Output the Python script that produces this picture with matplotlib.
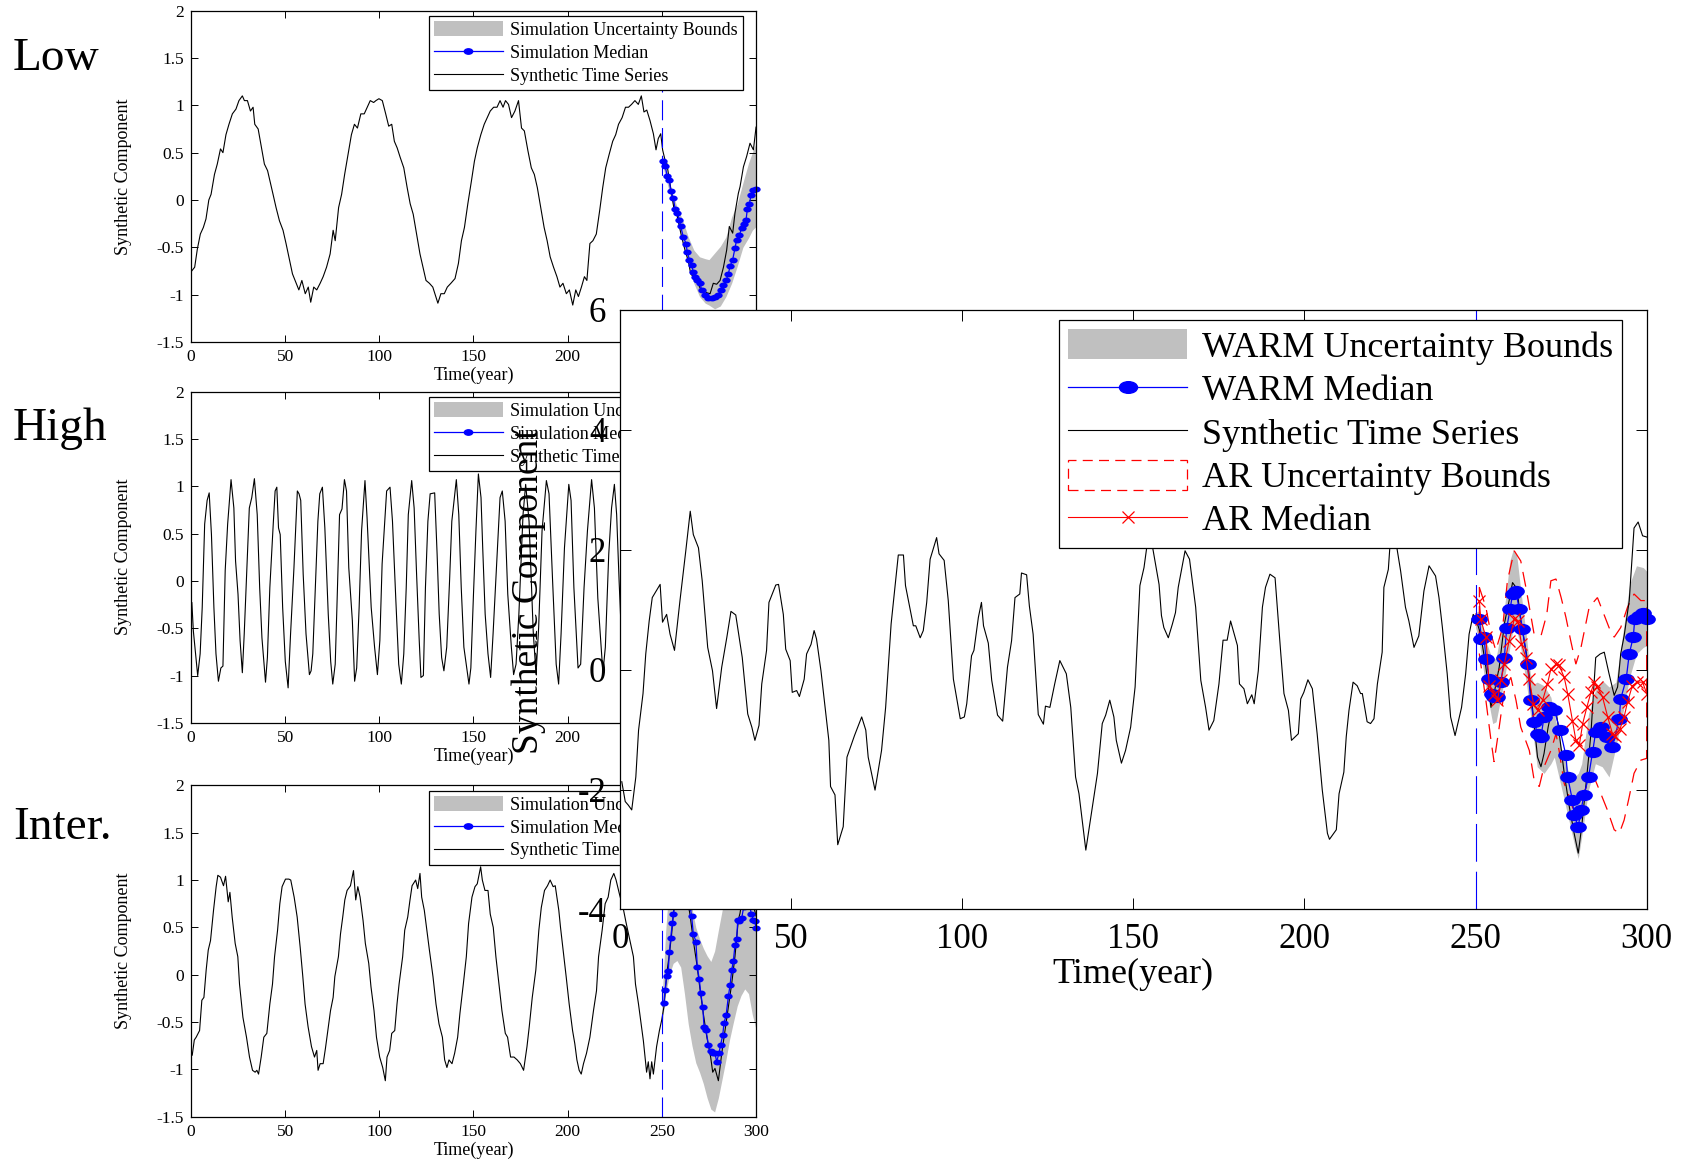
import numpy as np
import matplotlib.pyplot as plt
from matplotlib.path import Path
from matplotlib.transforms import Affine2D
from matplotlib.patches import Patch, Polygon
from matplotlib.lines import Line2D

plt.rcParams['font.family'] = ['Liberation Serif', 'DejaVu Serif']
plt.rcParams['axes.unicode_minus'] = False

# ---- values: (year, value) ----
low_series = [(0, -0.76), (2, -0.71), (3.4, -0.52), (5, -0.36), (6.6, -0.29), (8, -0.2), (9.5, 0.0), (10.7, 0.06),
              (12.5, 0.27), (14, 0.38), (15.7, 0.54), (17, 0.5), (18.6, 0.69), (20.2, 0.8), (22, 0.91), (23.9, 0.96),
              (25.5, 1.05), (27.3, 1.1), (28.4, 1.05), (30, 1.05), (31.6, 0.94), (33, 0.98), (33.9, 0.8), (35.7, 0.75),
              (37.5, 0.55), (39, 0.38), (40.7, 0.31), (42, 0.2), (43.6, 0.06), (45.2, -0.08), (47, -0.22), (48.9, -0.32),
              (50.5, -0.46), (52, -0.6), (53.9, -0.78), (55.7, -0.87), (57.3, -0.95), (58.9, -0.85), (60.7, -0.99),
              (62.3, -0.92), (63.6, -1.08), (65.2, -0.92), (66.8, -0.95), (68.6, -0.88), (70.2, -0.81), (72, -0.71),
              (73.9, -0.57), (75.5, -0.32), (76.6, -0.43), (78.4, -0.08), (80, 0.06), (81.6, 0.27), (83.4, 0.48),
              (85.2, 0.69), (86.8, 0.8), (88.4, 0.76), (90.2, 0.91), (92, 0.91), (93.6, 0.98), (95.2, 1.05), (97, 1.03),
              (98.2, 1.05), (99.8, 1.07), (101.6, 1.05), (103.4, 0.91), (105, 0.78), (106.6, 0.8), (108, 0.62),
              (109.5, 0.55), (111.1, 0.45), (113, 0.34), (114.8, 0.13), (116.4, -0.04), (118, -0.15), (119.8, -0.36),
              (121.6, -0.57), (123.2, -0.71), (124.8, -0.85), (126.6, -0.88), (128.4, -0.92), (130, -1.02),
              (131.1, -1.09), (132.7, -0.99), (134.5, -0.99), (136.1, -0.92), (138, -0.88), (140.2, -0.83), (142, -0.67),
              (143.6, -0.43), (145.2, -0.29), (147, -0.04), (148.9, 0.2), (150.5, 0.41), (152, 0.55), (153.9, 0.69),
              (155.7, 0.8), (157.3, 0.87), (158.9, 0.94), (160.7, 0.98), (162.5, 0.98), (164.1, 1.05), (165.7, 0.98),
              (167, 1.05), (168.6, 1.01), (170.2, 0.87), (172, 0.94), (173.9, 1.05), (175.5, 0.76), (177, 0.73),
              (178.9, 0.52), (180.7, 0.34), (182.3, 0.27), (183.9, 0.13), (185.7, -0.08), (187.5, -0.29), (189.1, -0.43),
              (190.7, -0.6), (192.5, -0.71), (194.3, -0.81), (195.9, -0.92), (197.5, -0.88), (199.3, -0.99),
              (200.9, -0.95), (202.7, -1.11), (204.3, -0.95), (205.7, -1.02), (207.3, -0.92), (208.9, -0.81),
              (210.2, -0.85), (211.8, -0.46), (213.4, -0.43), (215.2, -0.36), (217, -0.11), (218.6, 0.13), (220.2, 0.34),
              (222, 0.48), (223.9, 0.62), (225.5, 0.69), (227, 0.8), (228.9, 0.87), (230.7, 0.98), (232.3, 0.98),
              (233.9, 1.01), (235.7, 1.05), (237.5, 1.01), (239.1, 1.1), (240.5, 0.93), (242, 0.95), (243.7, 0.84),
              (245.5, 0.7), (246.9, 0.53), (248.1, 0.65), (249.4, 0.7), (250.4, 0.53), (251.7, 0.42), (252.6, 0.39),
              (254, 0.21), (255.2, 0.07), (256.4, -0.09), (257.9, -0.14), (259.3, -0.28), (260.5, -0.39), (262.3, -0.53),
              (264.1, -0.65), (265.3, -0.78), (266.7, -0.81), (268.5, -0.85), (270.3, -0.93), (272, -0.95),
              (273.8, -0.98), (275.6, -0.99), (277.3, -0.88), (279.1, -0.89), (280.9, -0.85), (282.7, -0.71),
              (284.4, -0.53), (285.8, -0.28), (287.6, -0.35), (288.8, -0.14), (290.6, 0.07), (291.5, 0.14),
              (293.3, 0.35), (295, 0.46), (296.8, 0.6), (298.6, 0.53), (300, 0.77)]
# (year, lower, upper)
low_band = [(250, 0.40, 0.48), (252, 0.24, 0.35), (255, 0.0, 0.11), (258, -0.21, -0.07), (261, -0.42, -0.21),
            (264, -0.67, -0.39), (267, -0.88, -0.53), (270, -1.02, -0.60), (273, -1.09, -0.62), (275, -1.11, -0.63),
            (278, -1.15, -0.56), (281, -1.12, -0.49), (284, -1.02, -0.39), (287, -0.88, -0.18), (290, -0.70, -0.04),
            (293, -0.50, 0.18), (296, -0.40, 0.39), (298, -0.32, 0.50), (300, -0.28, 0.60)]
low_median = [(250.8, 0.41), (251.7, 0.36), (252.9, 0.25), (254, 0.21), (254.7, 0.09), (256.1, 0.02), (257, -0.09),
              (258.2, -0.14), (259.3, -0.21), (260, -0.28), (261.4, -0.39), (262.8, -0.46), (263.5, -0.55),
              (264.6, -0.63), (265.8, -0.69), (266.7, -0.76), (267.6, -0.81), (268.8, -0.85), (270.3, -0.88),
              (271.1, -0.95), (272.9, -1.0), (274.7, -1.04), (276.4, -1.04), (278.2, -1.02), (280, -1.0),
              (281.2, -0.95), (282.6, -0.9), (284.1, -0.85), (285.3, -0.78), (286.2, -0.7), (287.6, -0.63),
              (288.8, -0.51), (289.7, -0.42), (291.1, -0.37), (292.4, -0.3), (293.6, -0.25), (294.7, -0.21),
              (295.4, -0.09), (296.5, -0.04), (297.3, 0.05), (298.6, 0.11), (299.8, 0.12)]

high_series = [(0.5, -0.23), (1.3, -0.53), (3.6, -1.0), (4.9, -0.77), (6, -0.28), (7.3, 0.6), (8.6, 0.85), (9.7, 0.93),
               (10.9, 0.49), (12.2, -0.28), (13.3, -0.77), (14.6, -1.06), (15.9, -0.92), (17, -0.9), (18.2, 0.11),
               (19.5, 0.6), (21.3, 1.07), (22.8, 0.77), (23.7, 0.21), (25, -0.14), (26.1, -0.63), (27.3, -0.97),
               (28.3, -0.56), (29.7, 0.14), (31, 0.77), (32.3, 0.88), (33.7, 1.08), (35.2, 0.7), (36.5, -0.07),
               (37.7, -0.6), (39.6, -1.07), (40.6, -0.81), (41.9, -0.07), (43.7, 0.6), (44.7, 0.95), (45.6, 0.99),
               (46.5, 0.56), (47.4, 0.49), (48.7, -0.28), (50.1, -0.85), (51.6, -1.13), (52.9, -0.56), (54.7, 0.14),
               (56.5, 0.95), (57.4, 0.92), (58.3, 0.85), (59.6, 0.07), (61.1, -0.56), (62.9, -0.99), (63.8, -0.95),
               (64.7, -0.77), (66.2, 0.0), (67.4, 0.63), (68.4, 0.92), (69.8, 0.99), (71.1, 0.56), (72.9, -0.35),
               (74.2, -0.85), (75.3, -1.09), (76.6, -0.88), (77.5, -0.28), (78.9, 0.7), (80.2, 0.76), (81.5, 1.07),
               (82.6, 0.95), (83.8, 0.14), (85.7, -0.42), (86.9, -1.06), (88, -0.92), (89.3, -0.28), (90.6, 0.53),
               (92.4, 1.06), (93.5, 0.67), (95.7, -0.28), (97.5, -0.7), (99, -0.99), (100.3, -0.63), (101.5, 0.18),
               (103.9, 0.95), (105.7, 0.99), (107, 0.63), (108.8, -0.21), (110.3, -0.88), (111.7, -1.09), (113, -0.77),
               (114.3, -0.07), (115.4, 0.7), (117.2, 1.06), (118.5, 0.77), (119.8, 0.07), (121.2, -0.63),
               (122.1, -1.02), (123.4, -1.0), (124.5, -0.07), (125.8, 0.63), (127, 0.92), (129.4, 0.93), (130.7, 0.28),
               (131.8, -0.35), (133.1, -0.81), (134.3, -0.95), (135.8, -0.7), (137.3, 0.0), (138.5, 0.63),
               (140.9, 1.07), (142.2, 0.7), (143.5, -0.07), (144.9, -0.7), (147.6, -1.09), (148.6, -0.92), (150, -0.14),
               (151.3, 0.53), (152.6, 1.13), (154, 0.88), (154.9, 0.35), (156.2, -0.35), (157.7, -0.77),
               (159.1, -1.02), (160.4, -0.56), (162.2, 0.14), (164.1, 0.88), (165.3, 0.95), (166.8, 0.63),
               (168.2, -0.14), (170.1, -0.7), (171.3, -0.99), (172.6, -0.88), (174.1, -0.35), (176.3, 0.7),
               (177.7, 1.02), (179.5, 0.63), (181.7, -0.53), (183.2, -0.99), (184.6, -0.49), (186.4, 0.53),
               (188.7, 1.06), (190.1, 0.92), (192, 0.0), (193.9, -0.88), (195.2, -1.09), (196.5, -0.56), (198.3, 0.35),
               (200.6, 1.02), (201.8, 0.85), (203.3, -0.07), (205.5, -0.92), (206.9, -0.88), (208.7, -0.07),
               (210.5, 0.53), (212.7, 1.07), (214.2, 0.77), (216, -0.18), (218.7, -0.97), (220, -0.7), (221.8, 0.28),
               (223.3, 0.77), (224.8, 1.02), (226, 0.7), (227.3, 0.0), (228.8, -0.7), (230, -1.0)]

inter_series = [(0.7, -0.85), (1.8, -0.69), (2.8, -0.66), (4.6, -0.59), (5.8, -0.27), (6.9, -0.24), (8.1, 0.05),
                (9.2, 0.26), (10.4, 0.36), (12, 0.68), (13.4, 0.93), (14.3, 1.05), (15.7, 1.03), (17.3, 0.94),
                (18.4, 1.04), (19.8, 0.77), (20.7, 0.87), (21.9, 0.61), (23.5, 0.33), (24.9, 0.19), (25.8, -0.1),
                (27.6, -0.45), (29.5, -0.66), (31.1, -0.87), (32.7, -1.01), (34.1, -1.03), (35, -1.01), (35.9, -1.05),
                (37.3, -0.87), (38.7, -0.66), (40.3, -0.62), (41.9, -0.31), (43.3, -0.1), (44.4, 0.19), (46, 0.47),
                (47.2, 0.75), (48.4, 0.93), (50.2, 1.01), (52, 1.01), (53, 1.0), (54.8, 0.82), (56.4, 0.61),
                (58, 0.29), (59.4, -0.02), (60.6, -0.31), (62.2, -0.55), (64, -0.76), (65.6, -0.87), (66.8, -0.8),
                (67.5, -1.01), (68.6, -0.94), (70.2, -0.94), (71.4, -0.78), (72.5, -0.62), (74.1, -0.38),
                (75.5, -0.24), (76.4, -0.02), (78.3, 0.19), (79.4, 0.43), (80.6, 0.61), (81.7, 0.79), (82.9, 0.89),
                (84.7, 0.94), (86.3, 1.1), (87.5, 0.79), (88.6, 0.93), (89.8, 0.82), (91.4, 0.57), (92.6, 0.33),
                (94.4, 0.12), (95.6, -0.13), (97.2, -0.38), (98.5, -0.66), (100.2, -0.87), (101.8, -0.98),
                (103.2, -1.12), (104.1, -0.87), (105.5, -0.8), (106.6, -0.62), (108.2, -0.59), (109.4, -0.31),
                (110.5, -0.1), (112.4, 0.19), (113.5, 0.47), (115.1, 0.61), (116.3, 0.79), (117.4, 0.94), (119.3, 1.0),
                (120.4, 0.91), (121.6, 1.07), (122.5, 0.82), (123.9, 0.68), (125.5, 0.43), (126.6, 0.26),
                (128.5, -0.02), (130.1, -0.31), (131.7, -0.52), (133.5, -0.66), (134.7, -0.9), (135.9, -0.98),
                (137, -0.9), (138.6, -0.94), (140, -0.83), (141.6, -0.66), (142.8, -0.41), (144.6, -0.1),
                (146.2, 0.19), (147.4, 0.54), (149.2, 0.82), (150.8, 0.93), (152, 0.96), (153.8, 1.14), (154.7, 1.0),
                (156.1, 0.89), (157.7, 0.89), (158.9, 0.64), (160.5, 0.5), (161.9, 0.19), (163.5, -0.1),
                (165.1, -0.38), (166.9, -0.62), (168.1, -0.66), (169.7, -0.87), (171.5, -0.87), (173.2, -0.9),
                (174.9, -0.94), (176.6, -1.01), (178.4, -0.76), (179.6, -0.55), (181.2, -0.24), (183.1, 0.05),
                (184.7, 0.47), (186, 0.71), (187.7, 0.89), (189.3, 0.94), (190.7, 1.0), (192.3, 0.93), (193.4, 0.94),
                (195.3, 0.68), (196.2, 0.5), (197.6, 0.26), (199.2, -0.02), (200.8, -0.31), (202.6, -0.59),
                (203.8, -0.73), (204.9, -0.9), (206.1, -1.01), (207.2, -1.05), (208.4, -0.94), (210, -0.83),
                (211.8, -0.66), (213.7, -0.38), (215.3, -0.17), (216.4, 0.19), (218.3, 0.47), (219.9, 0.75),
                (221.5, 0.82), (222.9, 1.0), (224.5, 1.07), (225.7, 1.0), (227.5, 0.85), (229.5, 0.7), (231, 0.55),
                (232.6, 0.4), (234.9, 0.19), (236, -0.1), (237.6, -0.31), (239, -0.52), (240.2, -0.7), (241.9, -1.03),
                (242.8, -0.92), (243.7, -1.1), (244.6, -0.92), (245.5, -1.05), (247.2, -0.76), (248.7, -0.59),
                (249.9, -0.48), (251.1, -0.34), (252.6, 0.01), (254, 0.22), (255.2, 0.43), (256.1, 0.64),
                (257.5, 0.85), (259, 0.98), (260.5, 1.02), (262, 0.95), (263.5, 0.8), (264.9, 0.64), (266.7, 0.36),
                (268.5, 0.12), (270.3, -0.16), (272, -0.41), (273.8, -0.65), (275.9, -0.87), (277, -1.03),
                (278.2, -0.99), (280, -1.12), (281.8, -0.83), (283.5, -0.59), (285.3, -0.34), (287.1, -0.09),
                (288.8, 0.19), (290.6, 0.58), (291.5, 0.65), (293, 0.85), (295, 0.95), (297, 0.9), (299, 0.7),
                (300, 0.62)]
inter_band = [(250, -0.55, -0.3), (252, -0.2, 0.45), (254, 0.0, 1.0), (256, 0.12, 1.35), (258, 0.15, 1.55),
              (260, 0.08, 1.6), (262, -0.2, 1.45), (264, -0.52, 1.05), (266, -0.75, 0.7), (268, -0.93, 0.5),
              (270, -1.03, 0.38), (272, -1.15, 0.28), (274, -1.3, 0.2), (276, -1.42, 0.14), (278, -1.45, 0.25),
              (280, -1.3, 0.47), (282, -1.1, 0.68), (284, -0.9, 0.95), (286, -0.68, 1.2), (288, -0.5, 1.4),
              (290, -0.33, 1.55), (292, -0.22, 1.6), (294, -0.15, 1.6), (296, -0.2, 1.5), (298, -0.42, 1.35),
              (300, -0.58, 1.2)]
inter_median = [(251.1, -0.3), (251.7, -0.16), (252.6, -0.01), (253.4, 0.04), (254, 0.24), (254.7, 0.39),
                (255.6, 0.55), (256.1, 0.64), (257.5, 0.85), (259, 0.97), (260.5, 1.0), (262, 0.95), (263.5, 0.85),
                (265, 0.72), (265.8, 0.62), (266.7, 0.43), (268.1, 0.35), (268.8, 0.08), (269.9, -0.05),
                (270.6, -0.19), (271.7, -0.34), (272.4, -0.55), (273.4, -0.58), (274.7, -0.74), (275.9, -0.81),
                (277, -0.83), (278.2, -0.83), (279.1, -0.92), (280.3, -0.83), (281.2, -0.74), (282.3, -0.64),
                (283, -0.51), (284.1, -0.43), (285.3, -0.23), (286.2, -0.11), (287.1, 0.05), (288, 0.15),
                (288.8, 0.31), (289.7, 0.38), (290.3, 0.58), (291.2, 0.57), (292.4, 0.6), (293.5, 0.72), (295, 0.8),
                (296.5, 0.75), (297.5, 0.64), (298.6, 0.58), (299.4, 0.57), (300, 0.49)]

big_series = [(0.5, -1.87), (1.5, -2.2), (2.4, -2.26), (3.4, -2.34), (4.6, -1.79), (5.4, -1.01), (6.7, -0.4),
              (7.5, 0.26), (8.5, 0.81), (9.4, 1.2), (11.7, 1.42), (12.4, 0.79), (13.6, 0.92), (14.6, 0.59),
              (15.9, 0.32), (17.5, 1.15), (19.2, 1.98), (20.5, 2.64), (21.4, 2.25), (22.9, 2.03), (24, 1.48),
              (25.6, 0.37), (27, -0.02), (28.2, -0.65), (29.7, 0.04), (31.2, 0.54), (32.4, 0.97), (33.8, 0.91),
              (35.7, 0.2), (37.3, -0.74), (38.5, -0.96), (39.4, -1.18), (40.6, -0.93), (41.4, -0.24), (42.8, 0.32),
              (43.5, 1.12), (45.5, 1.41), (46.3, 1.42), (47.7, 0.92), (48.4, 0.34), (49.7, 0.15), (50.3, -0.38),
              (51.6, -0.35), (52.4, -0.45), (53.8, -0.16), (54.5, 0.26), (55.8, 0.42), (56.7, 0.65), (57.4, 0.51),
              (58.7, -0.02), (61, -1.18), (61.5, -1.95), (62.8, -2.09), (63.6, -2.92), (65.2, -2.62), (66.3, -1.46),
              (68.5, -1.1), (70.6, -0.79), (71.8, -1.01), (72.5, -1.46), (74.5, -2.01), (76.4, -1.35), (77.6, -0.63),
              (79.2, 0.76), (81.3, 1.91), (82.8, 1.91), (83.4, 1.4), (85.7, 0.73), (86.4, 0.73), (87.7, 0.53),
              (88.6, 0.65), (89.6, 1.12), (90.6, 1.84), (92.5, 2.2), (93.2, 1.93), (94.7, 1.82), (95.9, 1.15),
              (97.4, -0.16), (98.3, -0.46), (99.4, -0.82), (100.6, -0.79), (101.3, -0.57), (102.7, 0.23),
              (103.4, 0.32), (104.7, 0.87), (105.6, 1.12), (106.2, 0.73), (107.6, 0.44), (108.6, -0.18),
              (110.3, -0.76), (111.8, -0.86), (113.2, 0.04), (114.4, 0.48), (115.4, 1.2), (116.8, 1.26),
              (117.3, 1.61), (118.8, 1.58), (119.6, 1.06), (120.7, 0.59), (122.2, -0.75), (123.7, -0.91),
              (124.3, -0.61), (125.6, -0.63), (127, -0.24), (128.5, 0.15), (130.4, -0.07), (131.7, -0.63),
              (133.1, -1.79), (134.1, -2.07), (136.1, -3.01), (138, -2.29), (139.5, -1.73), (140.9, -0.9),
              (141.9, -0.76), (143.1, -0.51), (144.3, -0.79), (145, -1.18), (146.5, -1.56), (147.7, -1.35),
              (149.2, -0.96), (150.5, -0.29), (151.9, 1.4), (153.1, 1.7), (154.1, 2.12), (155.3, 2.14),
              (156.3, 1.81), (157.5, 1.42), (158.2, 0.9), (158.9, 0.7), (160.2, 0.53), (161.4, 0.76), (162.3, 0.95),
              (163.1, 1.37), (165.1, 1.98), (166.4, 1.84), (168.2, 1.04), (169.7, -0.18), (171.1, -0.63),
              (172.1, -1.01), (173.5, -0.85), (175, -0.24), (176.2, 0.49), (177.4, 0.49), (178.4, 0.81), (180.4, 0.4),
              (181, -0.24), (182.3, -0.32), (183.3, -0.57), (184.6, -0.42), (185.3, -0.57), (186.5, -0.02),
              (187.7, 1.04), (188.6, 1.37), (189.9, 1.59), (191.4, 1.53), (193, 0.32), (194, -0.4), (195.3, -0.68),
              (196.2, -1.18), (198.2, -1.07), (198.9, -0.49), (199.8, -0.38), (201, -0.17), (202.3, -0.32),
              (203.7, -1.07), (205.2, -2.01), (206.7, -2.73), (207.3, -2.83), (209.3, -2.67), (210.1, -2.07),
              (211.5, -1.71), (212.2, -1.12), (213, -0.68), (214.2, -0.21), (215.4, -0.27), (216.4, -0.4),
              (216.9, -0.4), (218.3, -0.87), (219.3, -0.9), (220.3, -0.82), (221.3, -0.24), (222.7, 0.29),
              (223.2, 1.37), (224.5, 1.67), (225.5, 2.5), (226.6, 2.17), (228.1, 1.64), (229.5, 1.04), (230.5, 0.81),
              (232, 0.37), (233.4, 0.56), (234.9, 1.31), (236.4, 1.73), (238.3, 1.56), (239.3, 1.2), (240.3, 0.7),
              (241.7, -0.07), (242.7, -0.79), (244, -1.1), (245.9, -0.63), (247.1, -0.07), (248.1, 0.59),
              (249.3, 0.92), (250.1, 0.84), (251.5, 0.59), (253, 0.04), (254.5, -0.63), (255.4, -0.4), (256.9, 0.04),
              (258.4, 0.76), (259.8, 1.15), (260.8, 1.45), (261.8, 1.37), (262.4, 1.2), (263.2, 0.81), (265.2, 0.15),
              (266.6, -0.63), (268.1, -1.46), (269.1, -1.62), (270, -1.4), (271.2, -0.96), (272.5, -0.6),
              (273.5, -0.68), (274.7, -1.18), (275.9, -1.73), (277.4, -2.29), (278.8, -2.73), (280, -3.06),
              (281, -2.62), (282.2, -1.95), (283.7, -1.07), (285.1, 0.2), (286.4, 0.26), (287.6, 0.29), (289, -0.07),
              (290.5, -0.43), (291.5, -0.29), (292.4, 0.26), (293.4, 0.56), (294.9, 1.15), (296.3, 2.36),
              (297.5, 2.46), (298.8, 2.23), (300, 2.21)]
warm_band = [(250, 0.7, 0.95), (251, 0.48, 0.98), (253, -0.29, 0.48), (255, -0.90, 0.15), (256, -0.87, 0.20),
             (258, -0.29, 0.81), (260, 0.37, 1.81), (261, 0.70, 2.00), (262, 0.65, 1.92), (263, 0.43, 1.42),
             (265, -0.29, 0.48), (266, -0.74, -0.07), (267, -1.18, -0.24), (268, -1.62, -0.21), (270, -1.73, -0.27),
             (272, -1.57, -0.46), (273, -1.46, -0.74), (275, -1.95, -1.29), (277, -2.45, -1.68), (279, -2.95, -1.79),
             (280, -3.15, -1.73), (281, -2.79, -1.57), (283, -2.01, -0.74), (285, -1.57, -0.35), (287, -1.62, -0.18),
             (289, -1.79, -0.29), (291, -1.29, -0.21), (293, -0.74, 0.59), (295, -0.13, 1.42), (297, 0.26, 1.73),
             (299, 0.37, 1.70), (300, 0.40, 1.64)]
warm_median = [(251.1, 0.84), (251.7, 0.51), (252.5, 0.54), (253, 0.18), (254, -0.16), (254.7, -0.4), (255.4, -0.46),
               (256.4, -0.46), (257.4, -0.21), (258.4, 0.2), (259.1, 0.7), (260.1, 1.01), (260.8, 1.26),
               (261.8, 1.31), (262.7, 1.01), (263.7, 0.68), (265.2, 0.09), (266.1, -0.51), (267.1, -0.87),
               (268.1, -1.07), (269.1, -1.12), (270, -0.79), (271.5, -0.63), (273, -0.68), (274.7, -1.01),
               (276.4, -1.43), (276.9, -1.79), (278.3, -2.18), (278.8, -2.43), (280, -2.62), (280.8, -2.34),
               (281.7, -2.09), (283, -1.79), (284.2, -1.37), (285.1, -1.04), (286.6, -0.96), (288.5, -1.12),
               (290, -1.29), (292, -0.82), (292.4, -0.49), (294, -0.16), (294.9, 0.26), (296.1, 0.55), (296.5, 0.84),
               (297.8, 0.9), (298.8, 0.95), (300, 0.84)]
ar_median = [(251.1, 1.15), (251.5, 0.84), (253, 0.54), (254, -0.27), (255.4, -0.4), (256.4, -0.51), (257.4, -0.18),
             (258.4, 0.09), (259.8, 0.48), (261.3, 0.84), (262.3, 0.81), (263.4, 0.43), (264.7, 0.2), (265.7, -0.16),
             (266.9, -0.57), (268.1, -0.68), (269.6, -0.51), (271, -0.24), (272, 0.01), (273.5, 0.09), (274.4, 0.07),
             (275.9, -0.13), (276.9, -0.4), (278.3, -0.85), (279.3, -1.18), (280.3, -1.26), (281.3, -0.9),
             (282.5, -0.63), (283.7, -0.38), (284.7, -0.21), (285.6, -0.29), (287.1, -0.46), (288.6, -0.79),
             (290, -1.07), (290.7, -1.1), (292.2, -0.99), (293.4, -0.79), (294.4, -0.54), (295.8, -0.27),
             (297.3, -0.21), (298.8, -0.21), (300, -0.4)]
ar_upper = [(251.1, 1.37), (253, 1.04), (254.5, 0.59), (255.9, 0.32), (257.9, 0.7), (259.3, 1.48), (261.3, 1.98),
            (263.2, 1.81), (264.7, 1.37), (267.1, 0.59), (269.1, 0.56), (270.8, 0.92), (272, 1.48), (273.5, 1.51),
            (275, 1.2), (276.4, 0.87), (277.8, 0.48), (279.3, 0.09), (280.8, 0.37), (283.2, 1.04), (285.6, 1.2),
            (287.1, 0.98), (289, 0.7), (290.5, 0.54), (292.4, 0.7), (294.4, 1.04), (296.3, 1.26), (298.3, 1.15),
            (300, 1.15)]
ar_lower = [(251.1, 0.26), (253, -0.51), (254.5, -1.18), (255.4, -1.54), (256.9, -0.96), (258.4, -0.35),
            (260.3, -0.13), (261.8, -0.51), (263.2, -0.96), (265.7, -1.35), (267.1, -1.84), (268.6, -1.95),
            (270, -1.62), (272, -1.35), (273.5, -1.07), (274.4, -1.35), (275.9, -1.9), (277.8, -2.18), (279.3, -2.51),
            (280.8, -2.18), (282.7, -1.9), (284.6, -1.79), (286.6, -2.07), (288.5, -2.34), (290.5, -2.67),
            (292, -2.73), (293.4, -2.51), (294.9, -2.12), (296.3, -1.73), (298.3, -1.51), (300, -1.48)]

panel_names = ['Low', 'High', 'Inter.']
xticks = [0, 50, 100, 150, 200, 250, 300]
small_yticks = [-1.5, -1, -0.5, 0, 0.5, 1, 1.5, 2]
small_yticklabels = ['-1.5', '-1', '-0.5', '0', '0.5', '1', '1.5', '2']
big_yticks = [-4, -2, 0, 2, 4, 6]
small_labels = ['Simulation Uncertainty Bounds', 'Simulation Median', 'Synthetic Time Series']
big_labels = ['WARM Uncertainty Bounds', 'WARM Median', 'Synthetic Time Series',
              'AR Uncertainty Bounds', 'AR Median']

GRAY = '#c0c0c0'
oval = Path.unit_circle().transformed(Affine2D().scale(1.55, 1.0))

fig = plt.figure(figsize=(16.91, 11.62), dpi=100)


def small_panel(bottom, series, band=None, median=None):
    ax = fig.add_axes([0.1129, bottom, 0.3342, 0.2851])
    if band is not None:
        bt, blo, bhi = np.array(band).T
        ax.fill_between(bt, blo, bhi, color=GRAY, lw=0)
    t, y = np.array(series).T
    ax.plot(t, y, color='k', lw=0.8)
    if median is not None:
        mt, my = np.array(median).T
        ax.plot(mt, my, color='b', lw=0.9, marker=oval, ms=5, clip_on=False)
    ax.axvline(250, color='b', lw=0.8, ls=(0, (18, 7)))
    ax.set_xlim(0, 300)
    ax.set_ylim(-1.5, 2)
    ax.set_xticks(xticks)
    ax.set_xticklabels([str(v) for v in xticks])
    ax.set_yticks(small_yticks)
    ax.set_yticklabels(small_yticklabels)
    ax.tick_params(direction='in', top=True, right=True, length=5, width=0.7, labelsize=12.5, pad=5)
    for s in ax.spines.values():
        s.set_linewidth(0.9)
    ax.set_xlabel('Time(year)', fontsize=13)
    ax.xaxis.set_label_coords(0.5, -0.075)
    ax.set_ylabel('Synthetic Component', fontsize=13)
    ax.yaxis.set_label_coords(-0.105, 0.5)
    handles = [Patch(facecolor=GRAY, edgecolor='none'),
               Line2D([], [], color='b', lw=0.9, marker=oval, ms=6),
               Line2D([], [], color='k', lw=0.8)]
    leg = ax.legend(handles, small_labels, loc='upper right', bbox_to_anchor=(0.977, 0.984),
                    borderaxespad=0, fontsize=13, handlelength=3.8, handleheight=0.9,
                    labelspacing=0.28, borderpad=0.3, handletextpad=0.4,
                    fancybox=False, edgecolor='k', framealpha=1)
    leg.get_frame().set_linewidth(0.9)
    return ax


small_panel(0.7057, low_series, low_band, low_median)
small_panel(0.3779, high_series)
small_panel(0.0390, inter_series, inter_band, inter_median)

for name, yb in zip(panel_names, [0.9396, 0.621, 0.2776]):
    fig.text(0.0077, yb, name, fontsize=34, va='baseline', ha='left')

# ---- large overlay panel ----
big = fig.add_axes([0.3667, 0.2173, 0.6071, 0.5162])
big.set_facecolor('white')
wt, wlo, whi = np.array(warm_band).T
big.fill_between(wt, wlo, whi, color=GRAY, lw=0)
bt, by = np.array(big_series).T
big.plot(bt, by, color='k', lw=0.8)
mt, my = np.array(warm_median).T
big.plot(mt, my, color='b', lw=0.9, marker=oval, ms=11, clip_on=False)
ar_poly = np.vstack([np.array(ar_upper), np.array(ar_lower)[::-1]])
big.add_patch(Polygon(ar_poly, closed=True, fill=False, edgecolor='r', lw=0.9, ls=(0, (12, 7))))
at, ay = np.array(ar_median).T
big.plot(at, ay, color='r', lw=0.8, marker='x', ms=8, mew=0.9)
big.axvline(250, color='b', lw=0.8, ls=(0, (34, 9)))
big.set_xlim(0, 300)
big.set_ylim(-4, 6)
big.set_xticks(xticks)
big.set_xticklabels([str(v) for v in xticks])
big.set_yticks(big_yticks)
big.set_yticklabels([str(v) for v in big_yticks])
big.tick_params(direction='in', top=True, right=True, length=8, width=0.7, labelsize=25, pad=10)
for s in big.spines.values():
    s.set_linewidth(0.9)
big.set_xlabel('Time(year)', fontsize=26)
big.xaxis.set_label_coords(0.5, -0.08)
big.set_ylabel('Synthetic Component', fontsize=27)
big.yaxis.set_label_coords(-0.072, 0.53)

big_handles = [Patch(facecolor=GRAY, edgecolor='none'),
               Line2D([], [], color='b', lw=0.9, marker=oval, ms=13),
               Line2D([], [], color='k', lw=0.8),
               Patch(facecolor='white', edgecolor='r', lw=0.9, ls=(0, (8, 5))),
               Line2D([], [], color='r', lw=0.8, marker='x', ms=8, mew=0.9)]
leg = big.legend(big_handles, big_labels, loc='upper right', bbox_to_anchor=(0.9758, 0.982),
                 borderaxespad=0, fontsize=26, handlelength=3.3, handleheight=0.9,
                 labelspacing=0.22, borderpad=0.25, handletextpad=0.4,
                 fancybox=False, edgecolor='k', framealpha=1)
leg.get_frame().set_linewidth(0.9)

fig.savefig('out.png', dpi=100)
